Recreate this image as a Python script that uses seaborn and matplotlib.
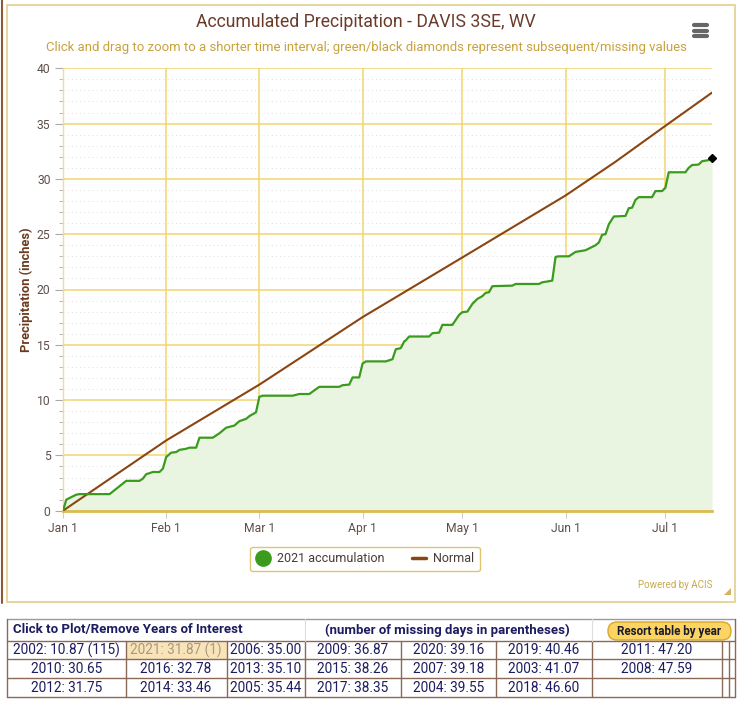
# %% Imports
import pandas as pd
import numpy as np
import matplotlib
matplotlib.use('Agg')
import matplotlib.pyplot as plt
from matplotlib.ticker import MultipleLocator
from matplotlib.lines import Line2D
from matplotlib.patches import FancyBboxPatch, Rectangle, Polygon
import seaborn as sns

# %% Data
start = pd.Timestamp('2021-01-01')

# 2021 accumulation (days since Jan 1, inches)
acc_days = [0, 1, 2.3, 4, 5, 14, 16.5, 19, 23, 24, 25, 27, 29, 30, 31, 32.5, 34, 35,
            37, 38, 40, 41, 45, 47, 49, 51.5, 53, 55, 56, 58, 59, 60, 69, 71, 74, 77,
            83, 84, 86, 87, 89, 90, 91, 97, 99, 100, 101.5, 102.5, 103, 104, 110, 111,
            113, 114, 117, 119, 120, 121.5, 123, 124.5, 126, 127, 128, 129, 135, 136,
            143, 144, 147, 148, 149, 152, 154, 157, 158, 160, 161, 162, 163, 164, 165.5,
            169, 170, 171, 172, 173, 177, 178, 180, 181, 182, 187, 188, 189, 191, 192,
            194, 195]
acc_inches = [0, 1.0, 1.2, 1.45, 1.5, 1.5, 2.1, 2.7, 2.7, 2.9, 3.3, 3.5, 3.5, 3.8, 4.85,
              5.25, 5.3, 5.5, 5.6, 5.7, 5.7, 6.6, 6.6, 7.0, 7.5, 7.7, 8.1, 8.3, 8.55, 8.9,
              10.3, 10.4, 10.4, 10.55, 10.55, 11.2, 11.2, 11.35, 11.4, 12.05, 12.05, 13.3,
              13.5, 13.5, 13.7, 14.6, 14.7, 15.3, 15.4, 15.75, 15.75, 16.05, 16.1, 16.8,
              16.8, 17.7, 17.95, 18.0, 18.7, 19.15, 19.4, 19.7, 19.75, 20.3, 20.35, 20.5,
              20.5, 20.65, 20.8, 22.95, 23.0, 23.0, 23.4, 23.55, 23.7, 24.0, 24.25, 24.95,
              25.0, 25.9, 26.6, 26.65, 27.35, 27.4, 28.1, 28.35, 28.35, 28.9, 28.9, 29.2,
              30.6, 30.6, 31.0, 31.25, 31.3, 31.6, 31.7, 31.87]

normal_days = [0, 31, 59, 90, 120, 151, 166, 181, 195]
normal_inches = [0, 6.35, 11.4, 17.5, 22.9, 28.5, 31.55, 34.8, 37.8]

month_days = [0, 31, 59, 90, 120, 151, 181]
month_labels = ['Jan 1', 'Feb 1', 'Mar 1', 'Apr 1', 'May 1', 'Jun 1', 'Jul 1']

# yearly totals table (sorted by total, filled column by column)
table_years = [2002, 2010, 2012, 2021, 2016, 2014, 2006, 2013, 2005, 2009,
               2015, 2017, 2020, 2007, 2004, 2019, 2003, 2018, 2011, 2008]
table_totals = [10.87, 30.65, 31.75, 31.87, 32.78, 33.46, 35.00, 35.10, 35.44, 36.87,
                38.26, 38.35, 39.16, 39.18, 39.55, 40.46, 41.07, 46.60, 47.20, 47.59]
table_missing = {2002: 115, 2021: 1}

# %% Styles
GREEN = '#3a9b1c'
FILL = '#e9f5e1'
BROWN = '#8b4513'
GRID = '#f0d66e'
TICKTXT = '#5e5048'
TITLE = '#6b3b2a'
SUB = '#c9a23c'
NAVY = '#1c1c60'
TBORDER = '#8a6a56'

sns.set_theme(style='white')
plt.rcParams['font.family'] = ['Roboto', 'DejaVu Sans']

W, H = 739, 702
fig = plt.figure(figsize=(W / 100, H / 100), dpi=100, facecolor='white')

# overlay in pixel coordinates for frame, titles and table
ov = fig.add_axes([0, 0, 1, 1])
ov.set_xlim(0, W)
ov.set_ylim(H, 0)
ov.axis('off')

x0, x1, y0, y1 = 63, 712, 510.7, 68.3
ax = fig.add_axes([x0 / W, 1 - y0 / H, (x1 - x0) / W, (y0 - y1) / H])

acc = pd.DataFrame({'date': start + pd.to_timedelta(acc_days, unit='D'),
                    'inches': acc_inches})
norm = pd.DataFrame({'date': start + pd.to_timedelta(normal_days, unit='D'),
                     'inches': normal_inches})

ax.fill_between(acc['date'], 0, acc['inches'], color=FILL, zorder=1, lw=0)
sns.lineplot(data=acc, x='date', y='inches', ax=ax, color=GREEN, lw=1.6, zorder=4)
sns.lineplot(data=norm, x='date', y='inches', ax=ax, color=BROWN, lw=1.5, zorder=3)
ax.plot(acc['date'].iloc[-1], acc['inches'].iloc[-1], marker='D', color='black',
        ms=4.5, zorder=5, clip_on=False)

ax.set_xlim(start, start + pd.Timedelta(days=195))
ax.set_ylim(0, 40)
ax.set_xticks(start + pd.to_timedelta(month_days, unit='D'))
ax.set_xticklabels(month_labels)
ax.yaxis.set_major_locator(MultipleLocator(5))
ax.yaxis.set_minor_locator(MultipleLocator(1))
ax.grid(which='major', axis='both', color=GRID, lw=1.1, zorder=0)
ax.grid(which='minor', axis='y', color='#d4d4d4', ls=(0, (1, 4)), lw=0.6, zorder=0)
ax.set_axisbelow(True)
ax.tick_params(axis='both', which='major', labelsize=8.7, labelcolor=TICKTXT,
               color='#aaaaaa', length=5, width=0.8, direction='out', pad=3)
ax.tick_params(axis='y', which='major', left=True, length=6)
ax.tick_params(axis='y', which='minor', left=True, length=3, color='#bbbbbb', width=0.8)
ax.tick_params(axis='x', which='major', bottom=True, length=5, color='#cccccc')
for s in ['top', 'right']:
    ax.spines[s].set_visible(False)
ax.spines['left'].set_color('#eede9c')
ax.spines['left'].set_linewidth(1)
ax.spines['bottom'].set_color('#dcbc4c')
ax.spines['bottom'].set_linewidth(2)
ax.set_xlabel('')
ax.set_ylabel('Precipitation (inches)', fontsize=9.3, fontweight='bold', color='#6b3a20',
              labelpad=3)

handles = [Line2D([], [], marker='o', color='none', markerfacecolor=GREEN,
                  markeredgecolor=GREEN, markersize=11),
           Line2D([], [], color=BROWN, lw=2.5)]
leg = ax.legend(handles, ['2021 accumulation', 'Normal'], loc='center',
                bbox_to_anchor=(365 / W, 1 - 559 / H), bbox_transform=fig.transFigure,
                ncol=2, frameon=True, fancybox=True, fontsize=9, handlelength=1.1,
                handletextpad=0.6, columnspacing=2.2, borderpad=0.45,
                labelcolor='#4a3a35')
leg.get_frame().set_edgecolor('#d8b84a')
leg.get_frame().set_linewidth(1)

# %% Frame, titles
ov.add_patch(Rectangle((7, 5), 728, 597, fill=False, ec='#e2d08e', lw=1.2))
ov.plot([2, 2], [0, 603], color='#8b5a3c', lw=1.5)
ov.text(366, 22, 'Accumulated Precipitation - DAVIS 3SE, WV', ha='center', va='center',
        fontsize=12.7, color=TITLE)
ov.text(366, 47, 'Click and drag to zoom to a shorter time interval; '
        'green/black diamonds represent subsequent/missing values',
        ha='center', va='center', fontsize=9.45, color=SUB)
for yy in [25, 30.5, 36]:
    ov.plot([694, 707], [yy, yy], color='#666666', lw=3, solid_capstyle='round')
ov.text(712, 585, 'Powered by ACIS', ha='right', va='center', fontsize=7, color='#c9a94a')
ov.add_patch(Polygon([[731, 588], [731, 595], [724, 595]], closed=True,
                     color='#d4b460', lw=0))

# %% Table
col_edges = [7, 125.5, 226.5, 305, 401, 496, 591.5, 722, 729, 735]
row_edges = [640.5, 659, 678, 697]
head_top = 619

for i, (yr, tot) in enumerate(zip(table_years, table_totals)):
    c, r = divmod(i, 3)
    xl, xr = col_edges[c], col_edges[c + 1]
    yt, yb = row_edges[r], row_edges[r + 1]
    label = f'{yr}: {tot:.2f}'
    if yr in table_missing:
        label += f' ({table_missing[yr]})'
    color = NAVY
    if yr == 2021:
        ov.add_patch(Rectangle((xl, yt), xr - xl, yb - yt, color='#f9e4b9', lw=0))
        color = '#a8987e'
    ov.text((xl + xr) / 2, (yt + yb) / 2 + 0.5, label, ha='center', va='center',
            fontsize=9.8, color=color)

ov.plot([7, 735], [head_top, head_top], color='#a09a96', lw=1)
for yy in row_edges:
    ov.plot([7, 735], [yy, yy], color=TBORDER, lw=1)
for xx in col_edges:
    ov.plot([xx, xx], [row_edges[0], row_edges[-1]], color=TBORDER, lw=1)
ov.plot([7, 7], [head_top, row_edges[0]], color=TBORDER, lw=1)
ov.plot([735, 735], [head_top, row_edges[0]], color=TBORDER, lw=1)
for xx in [305, 591.5]:
    ov.plot([xx, xx], [head_top, row_edges[0]], color='#dddddd', lw=0.8)

ov.text(13, 630, 'Click to Plot/Remove Years of Interest', ha='left', va='center',
        fontsize=9.5, fontweight='bold', color=NAVY)
ov.text(447, 630, '(number of missing days in parentheses)', ha='center', va='center',
        fontsize=9.5, fontweight='bold', color=NAVY)
ov.add_patch(FancyBboxPatch((608, 622), 123, 18,
                            boxstyle='round,pad=0,rounding_size=9',
                            fc='#fcd462', ec='#d8a72a', lw=1))
ov.text(669.5, 631, 'Resort table by year', ha='center', va='center', fontsize=8.4,
        fontweight='bold', color='#1a1a2a')

fig.savefig('out.png', dpi=100, facecolor='white')
